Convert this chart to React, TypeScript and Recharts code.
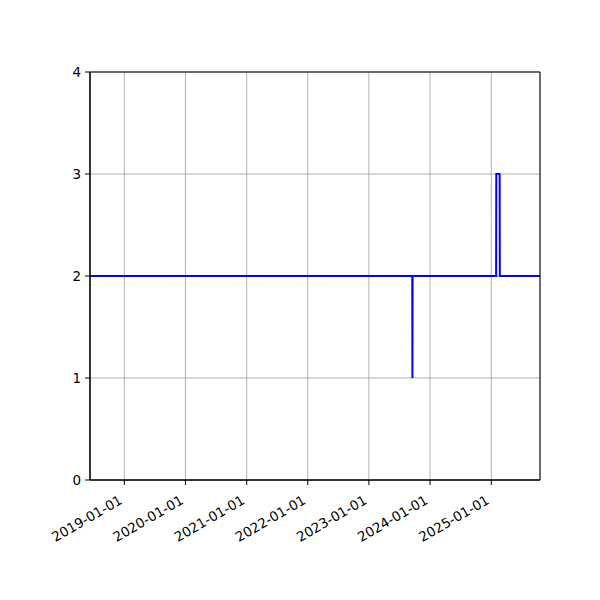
import React from "react";
import { LineChart, Line, XAxis, YAxis, CartesianGrid, ReferenceArea } from "recharts";

const d = (s: string) => Date.parse(s + "T00:00:00Z");

// sampled dates and values
const dates = [
  "2018-06-10",
  "2023-09-17",
  "2023-09-18",
  "2023-09-19",
  "2025-01-30",
  "2025-01-31",
  "2025-02-20",
  "2025-02-21",
  "2025-10-19",
];
const values = [2, 2, 1, 2, 2, 3, 3, 2, 2];

const tickLabels = [
  "2019-01-01",
  "2020-01-01",
  "2021-01-01",
  "2022-01-01",
  "2023-01-01",
  "2024-01-01",
  "2025-01-01",
];
const yTicks = [0, 1, 2, 3, 4];

const data = dates.map((s, i) => ({ t: d(s), v: values[i] }));
const xTicks = tickLabels.map(d);
const xDomain = [d("2018-06-10"), d("2025-10-19")];

const fmt = (t: number) => new Date(t).toISOString().slice(0, 10);

const FONT = "DejaVu Sans";

const XTick = (props: any) => {
  const { x, y, payload } = props;
  return (
    <text
      transform={`translate(${x - 1},${y + 16}) rotate(-30)`}
      textAnchor="end"
      fontFamily={FONT}
      fontSize={13.5}
      fill="#000"
    >
      {fmt(payload.value)}
    </text>
  );
};

export default function App() {
  return (
    <div style={{ position: "absolute", left: 0, top: 0, background: "#fff" }}>
      <LineChart
        width={600}
        height={600}
        data={data}
        margin={{ top: 72, right: 60, bottom: 60, left: 50 }}
      >
        <CartesianGrid stroke="#b0b0b0" strokeWidth={1} />
        <XAxis
          dataKey="t"
          type="number"
          scale="time"
          domain={xDomain}
          ticks={xTicks}
          interval={0}
          height={60}
          tick={<XTick />}
          tickSize={5}
          tickLine={{ stroke: "#000" }}
          axisLine={{ stroke: "#000" }}
          allowDataOverflow
        />
        <YAxis
          type="number"
          domain={[0, 4]}
          ticks={yTicks}
          interval={0}
          width={40}
          tickSize={5}
          tickMargin={4}
          tickLine={{ stroke: "#000" }}
          axisLine={{ stroke: "#000" }}
          tick={{ fill: "#000", fontFamily: FONT, fontSize: 13.5 }}
        />
        <ReferenceArea
          x1={xDomain[0]}
          x2={xDomain[1]}
          y1={0}
          y2={4}
          fill="none"
          stroke="#000"
          strokeWidth={1}
          ifOverflow="visible"
        />
        <Line
          type="linear"
          dataKey="v"
          stroke="#0000ff"
          strokeWidth={2}
          dot={false}
          isAnimationActive={false}
        />
      </LineChart>
    </div>
  );
}
